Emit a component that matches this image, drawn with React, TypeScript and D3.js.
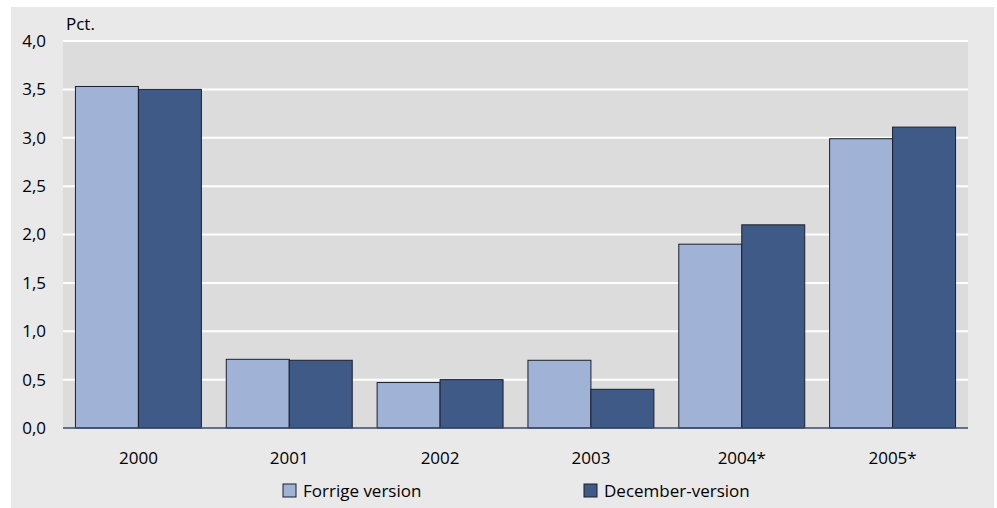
import React from "react";
import { scaleBand, scaleLinear, select, axisLeft, axisBottom, range } from "d3";

const years = ["2000", "2001", "2002", "2003", "2004*", "2005*"];
const forrige = [3.53, 0.71, 0.47, 0.7, 1.9, 2.99];
const december = [3.5, 0.7, 0.5, 0.4, 2.1, 3.11];
const seriesNames = ["Forrige version", "December-version"];
const seriesColors = ["#a0b2d5", "#405a88"];
const yTicks = range(0, 4.01, 0.5);

const W = 997;
const H = 508;
const margin = { top: 41, right: 29, bottom: 80, left: 63 };
const font = "'Open Sans', 'Noto Sans', sans-serif";

export default function App() {
  const ref = React.useRef<SVGSVGElement>(null);

  React.useEffect(() => {
    const svg = select(ref.current);
    svg.selectAll("*").remove();

    const x = scaleBand<string>()
      .domain(years)
      .range([margin.left, W - margin.right])
      .paddingInner(0.165)
      .paddingOuter(0.0825);
    const inner = scaleBand<number>()
      .domain([0, 1])
      .range([0, x.bandwidth()]);
    const y = scaleLinear()
      .domain([0, 4])
      .range([H - margin.bottom, margin.top]);

    // outer background
    svg
      .append("rect")
      .attr("x", 11)
      .attr("y", 7)
      .attr("width", 983)
      .attr("height", H - 7)
      .attr("fill", "#e9e9e9");

    // plot background
    svg
      .append("rect")
      .attr("x", margin.left)
      .attr("y", y(4))
      .attr("width", W - margin.right - margin.left)
      .attr("height", y(0) - y(4))
      .attr("fill", "#dcdcdc");

    // grid
    svg
      .append("g")
      .selectAll("line")
      .data(yTicks.filter((d) => d > 0))
      .join("line")
      .attr("x1", margin.left)
      .attr("x2", W - margin.right)
      .attr("y1", (d) => y(d))
      .attr("y2", (d) => y(d))
      .attr("stroke", "#ffffff")
      .attr("stroke-width", 2);

    const series = [forrige, december];
    series.forEach((vals, si) => {
      svg
        .append("g")
        .selectAll("rect")
        .data(vals)
        .join("rect")
        .attr("x", (d, i) => x(years[i])! + inner(si)!)
        .attr("y", (d) => y(d))
        .attr("width", inner.bandwidth())
        .attr("height", (d) => y(0) - y(d))
        .attr("fill", seriesColors[si])
        .attr("stroke", "#1a1f2b")
        .attr("stroke-width", 1);
    });

    // baseline
    svg
      .append("line")
      .attr("x1", margin.left)
      .attr("x2", W - margin.right)
      .attr("y1", y(0))
      .attr("y2", y(0))
      .attr("stroke", "#3a4a6a")
      .attr("stroke-width", 1.5);

    // y axis
    const gy = svg
      .append("g")
      .attr("transform", `translate(${margin.left},0)`)
      .call(
        axisLeft(y)
          .tickValues(yTicks)
          .tickSize(0)
          .tickPadding(17)
          .tickFormat((d) => (+d).toFixed(1).replace(".", ","))
      );
    gy.select(".domain").remove();
    gy.selectAll("text")
      .attr("font-family", font)
      .attr("font-size", 17)
      .attr("fill", "#000");

    // x axis
    const gx = svg
      .append("g")
      .attr("transform", `translate(0,${y(0)})`)
      .call(axisBottom(x).tickSize(0).tickPadding(24));
    gx.select(".domain").remove();
    gx.selectAll("text")
      .attr("font-family", font)
      .attr("font-size", 17)
      .attr("fill", "#000");

    svg
      .append("text")
      .attr("x", 66)
      .attr("y", 30)
      .attr("font-family", font)
      .attr("font-size", 17)
      .text("Pct.");

    // legend
    const legendX = [283, 584];
    const lg = svg
      .append("g")
      .selectAll("g")
      .data(seriesNames)
      .join("g")
      .attr("transform", (d, i) => `translate(${legendX[i]},484)`);
    lg.append("rect")
      .attr("width", 13)
      .attr("height", 13)
      .attr("fill", (d, i) => seriesColors[i])
      .attr("stroke", "#1a1f2b")
      .attr("stroke-width", 1);
    lg.append("text")
      .attr("x", 20)
      .attr("y", 13)
      .attr("font-family", font)
      .attr("font-size", 17)
      .text((d) => d);
  }, []);

  return (
    <svg
      ref={ref}
      width={W}
      height={H}
      style={{ position: "absolute", left: 0, top: 0 }}
    />
  );
}
